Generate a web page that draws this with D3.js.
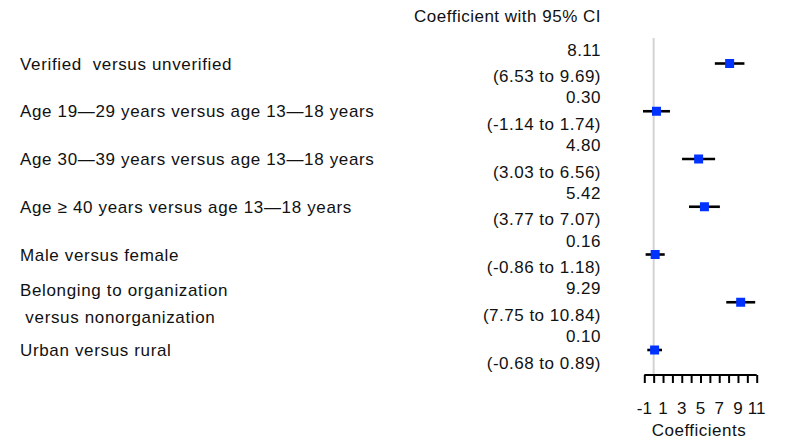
<!DOCTYPE html>
<html>
<head>
<meta charset="utf-8">
<script src="https://cdn.jsdelivr.net/npm/d3@7"></script>
<style>
  body { margin: 0; background: #fff; }
  text { font-family: "Liberation Sans", Arial, sans-serif; font-size: 17px; fill: #111; letter-spacing: 0.5px; white-space: pre; }
  text.lab { letter-spacing: 0.65px; }
</style>
</head>
<body>
<script>
var width = 800;
var height = 441;

// row labels (one array per row, may be 2 lines)
var labels = [
  ["Verified  versus unverified"],
  ["Age 19\u201429 years versus age 13\u201418 years"],
  ["Age 30\u201439 years versus age 13\u201418 years"],
  ["Age \u2265 40 years versus age 13\u201418 years"],
  ["Male versus female"],
  ["Belonging to organization", " versus nonorganization"],
  ["Urban versus rural"]
];
var coef  = [8.11, 0.30, 4.80, 5.42, 0.16, 9.29, 0.10];
var lower = [6.53, -1.14, 3.03, 3.77, -0.86, 7.75, -0.68];
var upper = [9.69, 1.74, 6.56, 7.07, 1.18, 10.84, 0.89];
var tickLabels = [-1, 1, 3, 5, 7, 9, 11];

var rows = coef.map(function(c, i){
  return {label: labels[i], coef: c, lo: lower[i], hi: upper[i]};
});

var svg = d3.select("body").append("svg")
  .attr("width", width)
  .attr("height", height);

var xScale = d3.scaleLinear()
  .domain([-1, 11])
  .range([644.3, 756.7]);

var yScale = d3.scalePoint()
  .domain(d3.range(rows.length))
  .range([63.5, 350]);

var axisY = 375;

// header
svg.append("text")
  .attr("x", 601).attr("y", 22)
  .attr("text-anchor", "end")
  .text("Coefficient with 95% CI");

// zero line
svg.append("line")
  .attr("x1", xScale(0)).attr("x2", xScale(0))
  .attr("y1", 38).attr("y2", axisY)
  .attr("stroke", "#d3d3d3")
  .attr("stroke-width", 2);

var row = svg.selectAll("g.row")
  .data(rows)
  .enter()
  .append("g")
  .attr("class", "row")
  .attr("transform", function(d, i){ return "translate(0," + yScale(i) + ")"; });

// left labels
row.each(function(d){
  var g = d3.select(this);
  if (d.label.length === 1) {
    g.append("text").attr("class", "lab").attr("x", 20).attr("y", 6).text(d.label[0]);
  } else {
    g.append("text").attr("class", "lab").attr("x", 20).attr("y", -6.5).text(d.label[0]);
    g.append("text").attr("class", "lab").attr("x", 20).attr("y", 20.5).text(d.label[1]);
  }
});

// coefficient text
row.append("text")
  .attr("x", 601).attr("y", -8)
  .attr("text-anchor", "end")
  .text(function(d){ return d.coef.toFixed(2); });

row.append("text")
  .attr("x", 601).attr("y", 18.5)
  .attr("text-anchor", "end")
  .text(function(d){ return "(" + d.lo.toFixed(2) + " to " + d.hi.toFixed(2) + ")"; });

// CI lines
row.append("line")
  .attr("x1", function(d){ return xScale(d.lo); })
  .attr("x2", function(d){ return xScale(d.hi); })
  .attr("y1", 0).attr("y2", 0)
  .attr("stroke", "#000")
  .attr("stroke-width", 2.6);

// markers
row.append("rect")
  .attr("x", function(d){ return xScale(d.coef) - 4.5; })
  .attr("y", -4.5)
  .attr("width", 9).attr("height", 9)
  .attr("fill", "#0033ff");

// axis
var axis = d3.axisBottom(xScale)
  .tickValues(d3.range(-1, 12))
  .tickSize(8)
  .tickFormat("");

var gx = svg.append("g")
  .attr("transform", "translate(0," + axisY + ")")
  .call(axis);
gx.select(".domain").attr("stroke", "#000").attr("stroke-width", 2).attr("d", "M" + xScale(-1) + ",0H" + xScale(11));
gx.selectAll(".tick line").attr("stroke", "#000").attr("stroke-width", 2);

gx.selectAll("text.tl")
  .data(tickLabels)
  .enter()
  .append("text")
  .attr("class", "tl")
  .attr("x", function(d){ return xScale(d); })
  .attr("y", 39)
  .attr("text-anchor", "middle")
  .style("letter-spacing", "0px")
  .text(function(d){ return d; });

svg.append("text")
  .attr("x", 699).attr("y", 436)
  .attr("text-anchor", "middle")
  .text("Coefficients");
</script>
</body>
</html>
